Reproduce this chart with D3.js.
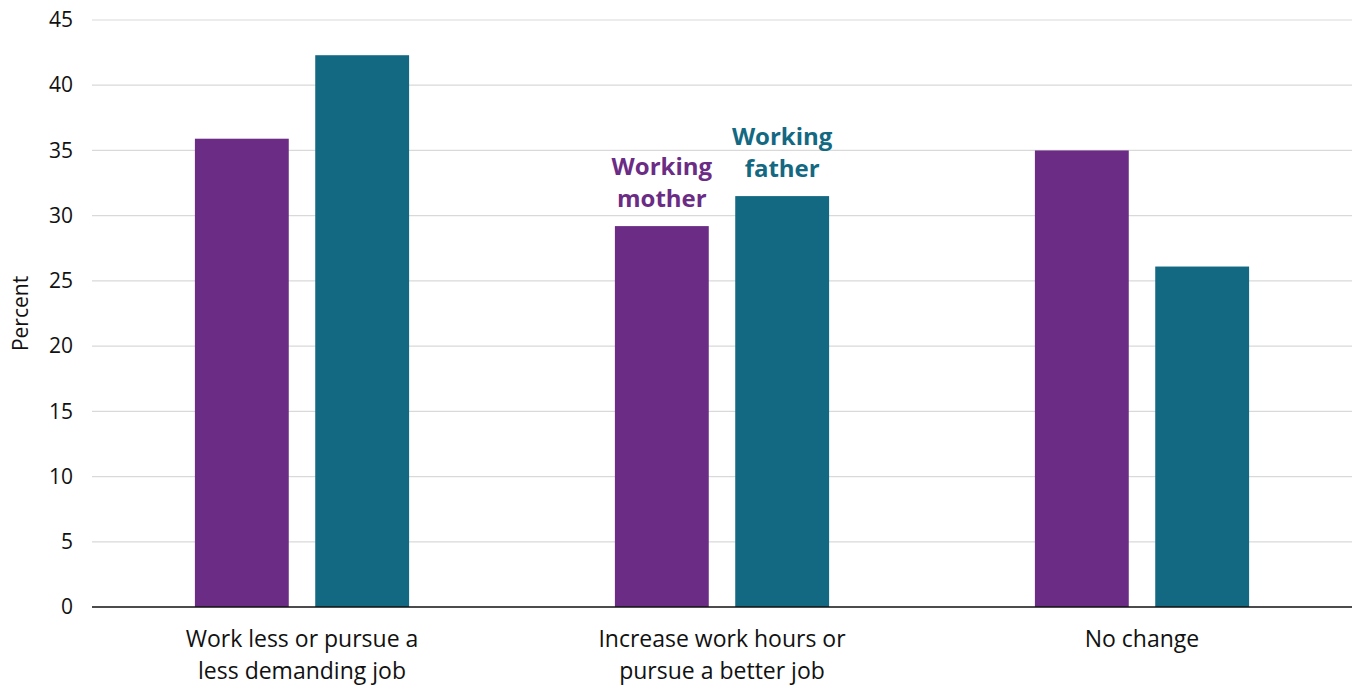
<!DOCTYPE html>
<html>
<head>
<meta charset="utf-8">
<script src="https://cdn.jsdelivr.net/npm/d3@7"></script>
<style>
  body { margin: 0; background: #fff; }
  svg { display: block; font-family: "Open Sans", "Noto Sans", sans-serif; }
</style>
</head>
<body>
<svg id="chart" width="1353" height="685"></svg>
<script>
// chart data
var categories = [
  ["Work less or pursue a", "less demanding job"],
  ["Increase work hours or", "pursue a better job"],
  ["No change"]
];
var seriesNames = ["Working mother", "Working father"];
var motherValues = [35.9, 29.2, 35.0];
var fatherValues = [42.3, 31.5, 26.1];
var yTicks = [0, 5, 10, 15, 20, 25, 30, 35, 40, 45];
var colors = ["#6b2c85", "#136882"];

var margin = {top: 20, right: 1, bottom: 78, left: 92};
var width = 1353, height = 685;

var svg = d3.select("#chart");

var x0 = d3.scaleBand()
    .domain(d3.range(categories.length))
    .range([margin.left, width - margin.right])
    .paddingInner(0.49)
    .paddingOuter(0.245);

var x1 = d3.scaleBand()
    .domain(d3.range(seriesNames.length))
    .range([0, x0.bandwidth()])
    .paddingInner(0.22)
    .paddingOuter(0);

var y = d3.scaleLinear()
    .domain([0, 45])
    .range([height - margin.bottom, margin.top]);

// gridlines
svg.append("g").selectAll("line")
    .data(yTicks.slice(1))
    .enter().append("line")
    .attr("x1", margin.left)
    .attr("x2", width - margin.right)
    .attr("y1", function(d) { return y(d); })
    .attr("y2", function(d) { return y(d); })
    .attr("stroke", "#d9d9d9")
    .attr("stroke-width", 1.2);

// y axis labels
var yAxis = d3.axisLeft(y).tickValues(yTicks).tickSize(0).tickPadding(19);
svg.append("g")
    .attr("transform", "translate(" + margin.left + ",0)")
    .call(yAxis)
    .call(function(g) { g.select(".domain").remove(); })
    .selectAll("text")
    .attr("font-size", 21)
    .attr("font-family", "'Open Sans', 'Noto Sans', sans-serif")
    .attr("fill", "#111");

svg.append("text")
    .attr("transform", "translate(28," + y(22.5) + ") rotate(-90)")
    .attr("text-anchor", "middle")
    .attr("font-size", 21)
    .attr("fill", "#111")
    .text("Percent");

// bars
var rows = categories.map(function(c, i) {
  return [motherValues[i], fatherValues[i]];
});

var groups = svg.append("g").selectAll("g")
    .data(rows)
    .enter().append("g")
    .attr("transform", function(d, i) { return "translate(" + x0(i) + ",0)"; });

groups.selectAll("rect")
    .data(function(d) { return d; })
    .enter().append("rect")
    .attr("x", function(d, j) { return x1(j); })
    .attr("width", x1.bandwidth())
    .attr("y", function(d) { return y(d); })
    .attr("height", function(d) { return y(0) - y(d); })
    .attr("fill", function(d, j) { return colors[j]; });

// baseline
svg.append("line")
    .attr("x1", margin.left)
    .attr("x2", width - margin.right)
    .attr("y1", y(0))
    .attr("y2", y(0))
    .attr("stroke", "#111")
    .attr("stroke-width", 1.5);

// category labels
var catLabels = svg.append("g").selectAll("text")
    .data(categories)
    .enter().append("text")
    .attr("x", function(d, i) { return x0(i) + x0.bandwidth() / 2; })
    .attr("y", y(0) + 40)
    .attr("text-anchor", "middle")
    .attr("font-size", 23)
    .attr("fill", "#111");

catLabels.selectAll("tspan")
    .data(function(d) { return d; })
    .enter().append("tspan")
    .attr("x", function() { return d3.select(this.parentNode).attr("x"); })
    .attr("dy", function(d, i) { return i ? 32 : 0; })
    .text(function(d) { return d; });

// series annotations over the middle group
var annot = svg.append("g").selectAll("text")
    .data(seriesNames)
    .enter().append("text")
    .attr("x", function(d, j) { return x0(1) + x1(j) + x1.bandwidth() / 2; })
    .attr("y", function(d, j) { return y(rows[1][j]) - 51; })
    .attr("text-anchor", "middle")
    .attr("font-size", 24)
    .attr("font-weight", "bold")
    .attr("fill", function(d, j) { return colors[j]; });

annot.selectAll("tspan")
    .data(function(d) { return d.split(" "); })
    .enter().append("tspan")
    .attr("x", function() { return d3.select(this.parentNode).attr("x"); })
    .attr("dy", function(d, i) { return i ? 32 : 0; })
    .text(function(d) { return d; });
</script>
</body>
</html>
